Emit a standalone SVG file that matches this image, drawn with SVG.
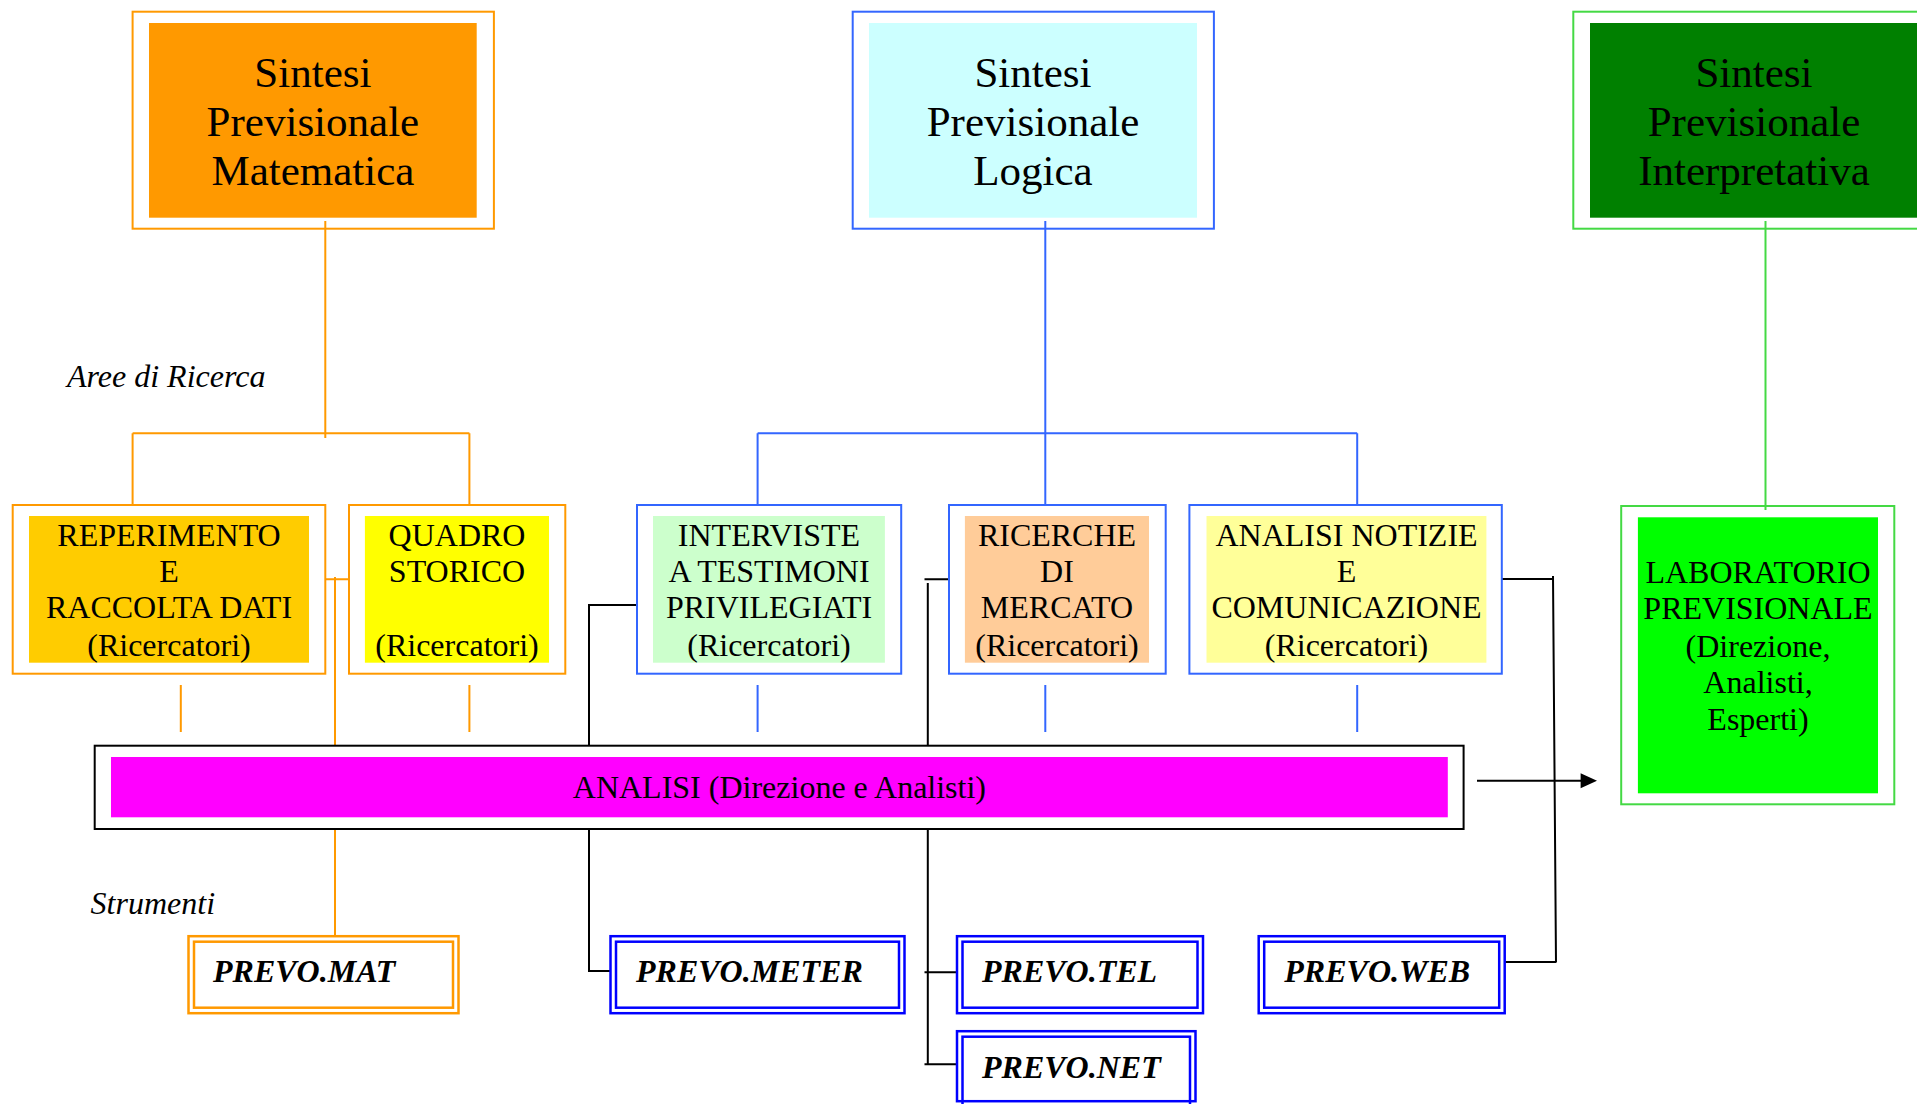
<svg xmlns="http://www.w3.org/2000/svg" width="1917" height="1104" viewBox="0 0 1917 1104">
<style>
text{font-family:"Liberation Serif","Times New Roman",serif;fill:#000}
.big{font-size:43px;text-anchor:middle}
.mid{font-size:32px;text-anchor:middle}
.lab{font-size:32px;font-style:italic}
.tool{font-size:32px;font-style:italic;font-weight:bold}
.ob{fill:none;stroke:#FF9900;stroke-width:2}
.bb{fill:none;stroke:#3366FF;stroke-width:2}
.gb{fill:none;stroke:#44D944;stroke-width:2}
.tb{fill:none;stroke:#0000FF;stroke-width:2.5}
.to{fill:none;stroke:#FF9900;stroke-width:2.5}
.lo{fill:none;stroke:#FF9900;stroke-width:2}
.lb{fill:none;stroke:#3366FF;stroke-width:2}
.lg{fill:none;stroke:#44D944;stroke-width:2}
.lk{fill:none;stroke:#000;stroke-width:2}
</style>
<rect width="1917" height="1104" fill="#fff"/>
<g id="connectors">
<path class="lo" d="M325.3 221V438M132.6 433.3H469.4M132.6 433.3V505M469.4 433.3V505"/>
<path class="lo" d="M180.8 685V732M469.4 685V732"/>
<path class="lo" d="M325.3 579.3H349M335 577V745.7M335 829V936"/>
<path class="lb" d="M1045.3 221V505M757.6 433.3H1357.2M757.6 433.3V505M1357.2 433.3V505"/>
<path class="lb" d="M757.6 685V732M1045.3 685V732M1357.2 685V732"/>
<path class="lg" d="M1765.5 221V510"/>
<path class="lk" d="M636.7 605H589V745.7M589 829V971H610"/>
<path class="lk" d="M949 579.3H924.5M927.8 583V745.7M927.8 829V1064.3M924.5 972.3H956M924.5 1064.3H956"/>
<path class="lk" d="M1501.8 579H1553M1553 576L1556 962.5M1505.3 962H1556"/>
<path class="lk" d="M1477 780.7H1582"/>
<polygon points="1580.6,773.2 1597,780.7 1580.6,788.2" fill="#000"/>
</g>
<g id="sintesi-matematica">
<rect class="ob" x="132.6" y="11.7" width="361.3" height="217"/>
<rect x="149" y="23" width="327.7" height="194.7" fill="#FF9900"/>
<text class="big" x="312.9" y="87.3">Sintesi</text>
<text class="big" x="312.9" y="136">Previsionale</text>
<text class="big" x="312.9" y="185">Matematica</text>
</g>
<g id="sintesi-logica">
<rect class="bb" x="852.7" y="11.7" width="361.2" height="217"/>
<rect x="869" y="23" width="328" height="194.7" fill="#CCFFFF"/>
<text class="big" x="1033" y="87.3">Sintesi</text>
<text class="big" x="1033" y="136">Previsionale</text>
<text class="big" x="1033" y="185">Logica</text>
</g>
<g id="sintesi-interpretativa">
<rect class="gb" x="1573.3" y="11.7" width="361" height="217"/>
<rect x="1590" y="23" width="328" height="194.7" fill="#008000"/>
<text class="big" x="1754" y="87.3">Sintesi</text>
<text class="big" x="1754" y="136">Previsionale</text>
<text class="big" x="1754" y="185">Interpretativa</text>
</g>
<text class="lab" x="67" y="386.7">Aree di Ricerca</text>
<g id="reperimento">
<rect class="ob" x="12.7" y="505" width="312.6" height="168.7"/>
<rect x="29" y="516" width="280" height="146.7" fill="#FFCC00"/>
<text class="mid" x="169" y="546">REPERIMENTO</text>
<text class="mid" x="169" y="581.7">E</text>
<text class="mid" x="169" y="618.3">RACCOLTA DATI</text>
<text class="mid" x="169" y="656">(Ricercatori)</text>
</g>
<g id="quadro-storico">
<rect class="ob" x="349" y="505" width="216.3" height="168.7"/>
<rect x="364.9" y="516" width="184.1" height="146.7" fill="#FFFF00"/>
<text class="mid" x="457" y="546">QUADRO</text>
<text class="mid" x="457" y="581.7">STORICO</text>
<text class="mid" x="457" y="656">(Ricercatori)</text>
</g>
<g id="interviste">
<rect class="bb" x="637" y="505" width="264.2" height="168.7"/>
<rect x="653" y="516" width="231.9" height="146.7" fill="#CCFFCC"/>
<text class="mid" x="769" y="546">INTERVISTE</text>
<text class="mid" x="769" y="581.7">A TESTIMONI</text>
<text class="mid" x="769" y="618.3">PRIVILEGIATI</text>
<text class="mid" x="769" y="656">(Ricercatori)</text>
</g>
<g id="ricerche">
<rect class="bb" x="949" y="505" width="216.7" height="168.7"/>
<rect x="964.9" y="516" width="184.1" height="146.7" fill="#FFCC99"/>
<text class="mid" x="1057" y="546">RICERCHE</text>
<text class="mid" x="1057" y="581.7">DI</text>
<text class="mid" x="1057" y="618.3">MERCATO</text>
<text class="mid" x="1057" y="656">(Ricercatori)</text>
</g>
<g id="analisi-notizie">
<rect class="bb" x="1189.4" y="505" width="312.4" height="168.7"/>
<rect x="1206.5" y="516" width="279.9" height="146.7" fill="#FFFF99"/>
<text class="mid" x="1346.5" y="546">ANALISI NOTIZIE</text>
<text class="mid" x="1346.5" y="581.7">E</text>
<text class="mid" x="1346.5" y="618.3">COMUNICAZIONE</text>
<text class="mid" x="1346.5" y="656">(Ricercatori)</text>
</g>
<g id="laboratorio">
<rect class="gb" x="1621.2" y="506" width="273.1" height="298.3"/>
<rect x="1637.9" y="517.3" width="240.1" height="276" fill="#00FF00"/>
<text class="mid" x="1758" y="582.7">LABORATORIO</text>
<text class="mid" x="1758" y="619.3">PREVISIONALE</text>
<text class="mid" x="1758" y="656.7">(Direzione,</text>
<text class="mid" x="1758" y="693.3">Analisti,</text>
<text class="mid" x="1758" y="730">Esperti)</text>
</g>
<g id="analisi">
<rect x="94.7" y="745.7" width="1368.9" height="83.3" fill="none" stroke="#000" stroke-width="2"/>
<rect x="111" y="757" width="1336.8" height="60.3" fill="#FF00FF"/>
<text class="mid" x="779.4" y="798">ANALISI (Direzione e Analisti)</text>
</g>
<text class="lab" x="90.6" y="914.3">Strumenti</text>
<g id="prevo-mat">
<rect class="to" x="188.5" y="936.2" width="270" height="77"/>
<rect class="to" x="194" y="941.7" width="259" height="66"/>
<text class="tool" x="213" y="981.7">PREVO.MAT</text>
</g>
<g id="prevo-meter">
<rect class="tb" x="610.5" y="936.2" width="294" height="77"/>
<rect class="tb" x="616" y="941.7" width="283" height="66"/>
<text class="tool" x="636" y="981.7">PREVO.METER</text>
</g>
<g id="prevo-tel">
<rect class="tb" x="957" y="936.2" width="246" height="77"/>
<rect class="tb" x="962.5" y="941.7" width="235" height="66"/>
<text class="tool" x="982" y="981.7">PREVO.TEL</text>
</g>
<g id="prevo-net">
<rect class="tb" x="957" y="1031.2" width="238.5" height="70"/>
<rect class="tb" x="962.5" y="1036.7" width="227.5" height="70"/>
<text class="tool" x="982" y="1077.7">PREVO.NET</text>
</g>
<g id="prevo-web">
<rect class="tb" x="1258.7" y="936.2" width="246" height="77"/>
<rect class="tb" x="1264.2" y="941.7" width="235" height="66"/>
<text class="tool" x="1284.3" y="981.7">PREVO.WEB</text>
</g>
</svg>
